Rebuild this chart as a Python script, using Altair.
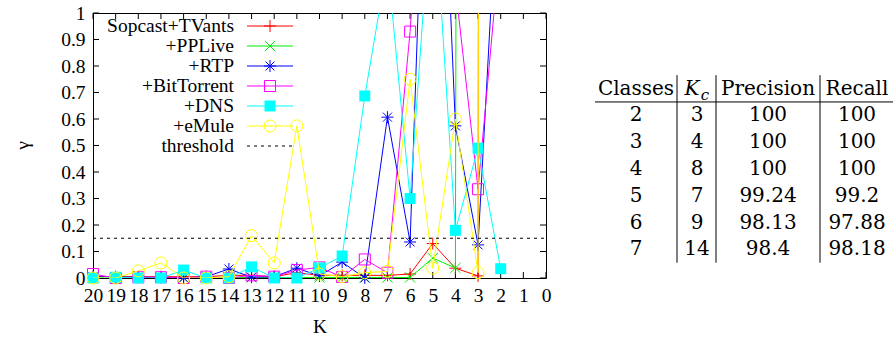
import altair as alt
import pandas as pd

# ---------------- data ----------------
K = [20, 19, 18, 17, 16, 15, 14, 13, 12, 11, 10, 9, 8, 7, 6, 5, 4, 3, 2]
series_names = ["Sopcast+TVants", "+PPLive", "+RTP", "+BitTorrent", "+DNS", "+eMule"]
sopcast_tvants = [0.005, 0.005, 0.005, 0.005, 0.005, 0.005, 0.01, 0.01, 0.005, 0.02,
                  0.01, 0.01, 0.01, 0.01, 0.015, 0.13, 0.037, 0.008, 60]
pplive = [0.002, 0.002, 0.002, 0.002, 0.002, 0.002, 0.002, 0.002, 0.002, 0.002,
          0.002, 0.002, 0.002, 0.002, 0.002, 0.075, 0.038, 40, 50]
rtp = [0.005, 0.003, 0.003, 0.002, 0.0, 0.005, 0.034, 0.003, 0.005, 0.037,
       0.008, 0.06, 0.0, 0.607, 0.136, 2.6, 0.574, 0.125, 1.7]
bittorrent = [0.015, 0.0, 0.003, 0.003, 0.0, 0.005, 0.0, 0.01, 0.005, 0.03,
              0.04, 0.004, 0.07, 0.02, 0.93, 2.2, 1.1, 0.335, 1.28]
dns = [0.0, 0.003, 0.0, 0.0, 0.03, 0.0, 0.0, 0.042, 0.0, 0.0,
       0.038, 0.083, 0.687, 1.19, 0.3, 1.52, 0.18, 0.49, 0.035]
emule = [0.0, 0.0, 0.027, 0.057, 0.0, 0.0, 0.005, 0.16, 0.057, 0.574,
         0.015, 0.005, 0.02, 0.025, 0.75, 0.037, 0.6, 0.02, 80]
series_values = [sopcast_tvants, pplive, rtp, bittorrent, dns, emule]
threshold = 0.15
threshold_label = "threshold"
x_ticks = list(range(0, 21))
y_ticks = [0.0, 0.1, 0.2, 0.3, 0.4, 0.5, 0.6, 0.7, 0.8, 0.9, 1.0]

table_header = ["Classes", "K", "c", "Precision", "Recall"]
classes = ["2", "3", "4", "5", "6", "7"]
kc = ["3", "4", "8", "7", "9", "14"]
precision = ["100", "100", "100", "99.24", "98.13", "98.4"]
recall = ["100", "100", "100", "99.2", "97.88", "98.18"]

# ---------------- styles / layout ----------------
FONT = "Liberation Serif, serif"
TFONT = "DejaVu Serif"
FS = 19.5
TFS = 20
W, H = 453, 265
PLUS = "M-1,0L1,0M0,-1L0,1"
CROSS = "M-0.85,-0.85L0.85,0.85M-0.85,0.85L0.85,-0.85"
STAR = "M-1,0L1,0M0,-1L0,1M-0.75,-0.75L0.75,0.75M-0.75,0.75L0.75,-0.75"
styles = [
    ("#ff0000", PLUS, False, 144),
    ("#00ee00", CROSS, False, 144),
    ("#0000ff", STAR, False, 144),
    ("#ff00ff", "square", False, 121),
    ("#00ffff", "square", True, 121),
    ("#ffff00", "circle", False, 144),
]

x_enc = alt.X(
    "K:Q",
    scale=alt.Scale(domain=[0, 20], reverse=True, nice=False, zero=False),
    axis=alt.Axis(values=x_ticks, format="d", ticks=False, tickSize=0, domain=False, grid=False,
                  labelFont=FONT, labelFontSize=FS, labelColor="black", labelPadding=8,
                  labelFlush=False, labelOverlap=False, labelBound=False,
                  title="K", titleFont=FONT, titleFontSize=FS, titleFontWeight="normal",
                  titleColor="black", titleX=W / 2, titleY=48, titleAlign="center",
                  titleBaseline="middle"),
)
y_enc = alt.Y(
    "gamma:Q",
    scale=alt.Scale(domain=[0, 1], nice=False, zero=False),
    axis=alt.Axis(values=y_ticks, ticks=False, tickSize=0, domain=False, grid=False,
                  labelExpr="datum.value == 0 ? '0' : datum.value == 1 ? '1' : format(datum.value, '.1f')",
                  labelFont=FONT, labelFontSize=FS, labelColor="black", labelPadding=8,
                  labelFlush=False, labelOverlap=False, labelBound=False,
                  title="γ", titleFont=FONT, titleFontSize=FS, titleFontWeight="normal",
                  titleColor="black", titleX=-71, titleY=132, titleAlign="center",
                  titleBaseline="middle", titleAngle=270),
)

layers = []

# inward tick marks on all four sides
xt = pd.DataFrame({"K": x_ticks})
yt = pd.DataFrame({"gamma": y_ticks})
layers.append(alt.Chart(xt).mark_rule(color="black", strokeWidth=1).encode(
    x=x_enc, y=alt.value(H), y2=alt.value(H - 6)))
layers.append(alt.Chart(xt).mark_rule(color="black", strokeWidth=1).encode(
    x=x_enc, y=alt.value(0), y2=alt.value(6)))
layers.append(alt.Chart(yt).mark_rule(color="black", strokeWidth=1).encode(
    y=y_enc, x=alt.value(0), x2=alt.value(6)))
layers.append(alt.Chart(yt).mark_rule(color="black", strokeWidth=1).encode(
    y=y_enc, x=alt.value(W - 6), x2=alt.value(W)))

# series
for name, vals, (color, shape, filled, size) in zip(series_names, series_values, styles):
    df = pd.DataFrame({"K": K, "gamma": vals})
    base = alt.Chart(df)
    layers.append(base.mark_line(color=color, strokeWidth=1, clip=True).encode(x=x_enc, y=y_enc))
    layers.append(base.transform_filter("datum.gamma <= 1").mark_point(
        shape=shape, filled=filled, color=color, size=size, strokeWidth=1, opacity=1
    ).encode(x=x_enc, y=y_enc))

# threshold
thr_df = pd.DataFrame({"K": [20, 0], "gamma": [threshold, threshold]})
layers.append(alt.Chart(thr_df).mark_line(color="black", strokeWidth=1, strokeDash=[3, 4]).encode(
    x=x_enc, y=y_enc))

# legend (gnuplot style: text right-aligned, sample to the right)
for i, (name, (color, shape, filled, size)) in enumerate(zip(series_names, styles)):
    yy = 13 + 20 * i
    ldf = pd.DataFrame({"label": [name]})
    lb = alt.Chart(ldf)
    layers.append(lb.mark_text(align="right", baseline="middle", font=FONT, fontSize=FS,
                               color="black").encode(text="label:N", x=alt.value(141), y=alt.value(yy)))
    layers.append(lb.mark_rule(color=color, strokeWidth=1).encode(
        x=alt.value(154), x2=alt.value(200), y=alt.value(yy)))
    layers.append(lb.mark_point(shape=shape, filled=filled, color=color, size=size,
                                strokeWidth=1, opacity=1).encode(x=alt.value(177), y=alt.value(yy)))
yy = 13 + 20 * 6
tl = alt.Chart(pd.DataFrame({"label": [threshold_label]}))
layers.append(tl.mark_text(align="right", baseline="middle", font=FONT, fontSize=FS,
                           color="black").encode(text="label:N", x=alt.value(141), y=alt.value(yy)))
layers.append(tl.mark_rule(color="black", strokeWidth=1, strokeDash=[3, 4]).encode(
    x=alt.value(154), x2=alt.value(200), y=alt.value(yy)))

main = alt.layer(*layers)

# ---------------- table ----------------
TDOM = [-2.82, 7.07]
ty = alt.Y("row:Q", scale=alt.Scale(domain=TDOM, reverse=True, nice=False, zero=False), axis=None)
tdf = pd.DataFrame({"row": list(range(1, 7)), "classes": classes, "kc": kc,
                    "precision": precision, "recall": recall})
hdf = pd.DataFrame({"row": [0], "h0": [table_header[0]], "h1": [table_header[1]],
                    "h2": [table_header[2]], "h3": [table_header[3]], "h4": [table_header[4]]})
col_x = {"classes": 543, "kc": 604, "precision": 675, "recall": 764}
tlayers = []
for col, px in col_x.items():
    tlayers.append(alt.Chart(tdf).mark_text(align="center", baseline="middle", font=TFONT,
                                            fontSize=TFS, color="black").encode(
        text=f"{col}:N", x=alt.value(px), y=ty))
hb = alt.Chart(hdf)
tlayers.append(hb.mark_text(align="center", baseline="middle", font=TFONT, fontSize=TFS,
                            color="black").encode(text="h0:N", x=alt.value(543), y=ty))
tlayers.append(hb.mark_text(align="center", baseline="middle", font=TFONT, fontSize=TFS,
                            fontStyle="italic", color="black").encode(text="h1:N", x=alt.value(599), y=ty))
tlayers.append(hb.mark_text(align="center", baseline="middle", font=TFONT, fontSize=15, dy=6,
                            fontStyle="italic", color="black").encode(text="h2:N", x=alt.value(612), y=ty))
tlayers.append(hb.mark_text(align="center", baseline="middle", font=TFONT, fontSize=TFS,
                            color="black").encode(text="h3:N", x=alt.value(675), y=ty))
tlayers.append(hb.mark_text(align="center", baseline="middle", font=TFONT, fontSize=TFS,
                            color="black").encode(text="h4:N", x=alt.value(764), y=ty))
for px in [584, 623, 727]:
    tlayers.append(hb.mark_rule(color="black", strokeWidth=1).encode(
        x=alt.value(px),
        y=alt.Y(datum=-0.5, type="quantitative",
                scale=alt.Scale(domain=TDOM, reverse=True, nice=False, zero=False), axis=None),
        y2=alt.Y2(datum=6.5)))
tlayers.append(hb.mark_rule(color="black", strokeWidth=1).encode(
    x=alt.value(502), x2=alt.value(800),
    y=alt.Y(datum=0.5, type="quantitative",
            scale=alt.Scale(domain=TDOM, reverse=True, nice=False, zero=False), axis=None)))
table = alt.layer(*tlayers)

chart = alt.layer(main, table).resolve_scale(y="independent").properties(
    width=W, height=H,
    autosize=alt.AutoSizeParams(type="none"),
    padding={"left": 93, "top": 13, "right": 348, "bottom": 63},
    background="white",
).configure_view(stroke="black", strokeWidth=1)

chart.save("out.html", embed_options={"renderer": "svg", "actions": False})
